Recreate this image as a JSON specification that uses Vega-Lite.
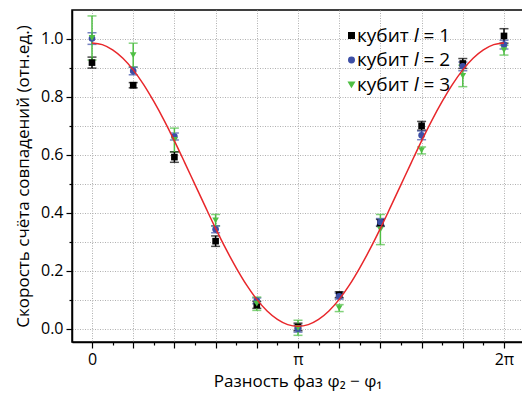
{
  "$schema": "https://vega.github.io/schema/vega-lite/v6.json",
  "width": 451,
  "height": 332,
  "autosize": {"type": "none"},
  "padding": {"left": 72, "top": 10, "right": 0, "bottom": 55},
  "config": {
    "font": "Open Sans",
    "view": {"stroke": "#000", "strokeWidth": 1.5},
    "axis": {
      "domainColor": "#000", "domainWidth": 1.5, "tickColor": "#000", "tickWidth": 1.2,
      "labelColor": "#000", "titleColor": "#000", "labelFontSize": 16, "titleFontSize": 17,
      "titleFontWeight": "normal", "gridColor": "#b0b0b0", "gridDash": [1, 1.5], "gridWidth": 1
    },
    "legend": {"labelFontSize": 19, "labelColor": "#000", "symbolOpacity": 1}
  },
  "datasets": {
    "pts": [
      {"phi": 0, "s": "кубит 𝑙 = 1", "v": 0.918, "e": 0.019},
      {"phi": 0.62832, "s": "кубит 𝑙 = 1", "v": 0.840, "e": 0.009},
      {"phi": 1.25664, "s": "кубит 𝑙 = 1", "v": 0.592, "e": 0.018},
      {"phi": 1.88496, "s": "кубит 𝑙 = 1", "v": 0.302, "e": 0.018},
      {"phi": 2.51327, "s": "кубит 𝑙 = 1", "v": 0.082, "e": 0.012},
      {"phi": 3.14159, "s": "кубит 𝑙 = 1", "v": 0.006, "e": 0.013},
      {"phi": 3.76991, "s": "кубит 𝑙 = 1", "v": 0.117, "e": 0.010},
      {"phi": 4.39823, "s": "кубит 𝑙 = 1", "v": 0.365, "e": 0.012},
      {"phi": 5.02655, "s": "кубит 𝑙 = 1", "v": 0.700, "e": 0.015},
      {"phi": 5.65487, "s": "кубит 𝑙 = 1", "v": 0.915, "e": 0.017},
      {"phi": 6.28319, "s": "кубит 𝑙 = 1", "v": 1.010, "e": 0.025},
      {"phi": 0, "s": "кубит 𝑙 = 2", "v": 1.001, "e": 0.020},
      {"phi": 0.62832, "s": "кубит 𝑙 = 2", "v": 0.889, "e": 0.013},
      {"phi": 1.25664, "s": "кубит 𝑙 = 2", "v": 0.663, "e": 0.012},
      {"phi": 1.88496, "s": "кубит 𝑙 = 2", "v": 0.343, "e": 0.012},
      {"phi": 2.51327, "s": "кубит 𝑙 = 2", "v": 0.096, "e": 0.010},
      {"phi": 3.14159, "s": "кубит 𝑙 = 2", "v": 0.000, "e": 0.012},
      {"phi": 3.76991, "s": "кубит 𝑙 = 2", "v": 0.112, "e": 0.010},
      {"phi": 4.39823, "s": "кубит 𝑙 = 2", "v": 0.368, "e": 0.012},
      {"phi": 5.02655, "s": "кубит 𝑙 = 2", "v": 0.667, "e": 0.015},
      {"phi": 5.65487, "s": "кубит 𝑙 = 2", "v": 0.905, "e": 0.015},
      {"phi": 6.28319, "s": "кубит 𝑙 = 2", "v": 0.980, "e": 0.015},
      {"phi": 0, "s": "кубит 𝑙 = 3", "v": 1.003, "e": 0.076},
      {"phi": 0.62832, "s": "кубит 𝑙 = 3", "v": 0.944, "e": 0.041},
      {"phi": 1.25664, "s": "кубит 𝑙 = 3", "v": 0.651, "e": 0.041},
      {"phi": 1.88496, "s": "кубит 𝑙 = 3", "v": 0.374, "e": 0.020},
      {"phi": 2.51327, "s": "кубит 𝑙 = 3", "v": 0.086, "e": 0.023},
      {"phi": 3.14159, "s": "кубит 𝑙 = 3", "v": 0.003, "e": 0.026},
      {"phi": 3.76991, "s": "кубит 𝑙 = 3", "v": 0.071, "e": 0.012},
      {"phi": 4.39823, "s": "кубит 𝑙 = 3", "v": 0.342, "e": 0.052},
      {"phi": 5.02655, "s": "кубит 𝑙 = 3", "v": 0.615, "e": 0.012},
      {"phi": 5.65487, "s": "кубит 𝑙 = 3", "v": 0.872, "e": 0.037},
      {"phi": 6.28319, "s": "кубит 𝑙 = 3", "v": 0.961, "e": 0.017}
    ],
    "fit": [
      {"x": 0, "f": 0.986}, {"x": 0.15708, "f": 0.980}, {"x": 0.31416, "f": 0.962},
      {"x": 0.47124, "f": 0.933}, {"x": 0.62832, "f": 0.893}, {"x": 0.7854, "f": 0.843},
      {"x": 0.94248, "f": 0.784}, {"x": 1.09956, "f": 0.719}, {"x": 1.25664, "f": 0.648},
      {"x": 1.41372, "f": 0.573}, {"x": 1.5708, "f": 0.497}, {"x": 1.72788, "f": 0.421},
      {"x": 1.88496, "f": 0.346}, {"x": 2.04204, "f": 0.275}, {"x": 2.19911, "f": 0.210},
      {"x": 2.35619, "f": 0.151}, {"x": 2.51327, "f": 0.101}, {"x": 2.67035, "f": 0.061},
      {"x": 2.82743, "f": 0.032}, {"x": 2.98451, "f": 0.014}, {"x": 3.14159, "f": 0.008},
      {"x": 3.29867, "f": 0.014}, {"x": 3.45575, "f": 0.032}, {"x": 3.61283, "f": 0.061},
      {"x": 3.76991, "f": 0.101}, {"x": 3.92699, "f": 0.151}, {"x": 4.08407, "f": 0.210},
      {"x": 4.24115, "f": 0.275}, {"x": 4.39823, "f": 0.346}, {"x": 4.55531, "f": 0.421},
      {"x": 4.71239, "f": 0.497}, {"x": 4.86947, "f": 0.573}, {"x": 5.02655, "f": 0.648},
      {"x": 5.18363, "f": 0.719}, {"x": 5.34071, "f": 0.784}, {"x": 5.49779, "f": 0.843},
      {"x": 5.65487, "f": 0.893}, {"x": 5.81195, "f": 0.933}, {"x": 5.96903, "f": 0.962},
      {"x": 6.12611, "f": 0.980}, {"x": 6.28319, "f": 0.986}
    ]
  },
  "layer": [
    {
      "data": {"name": "pts"},
      "mark": {"type": "errorbar", "ticks": true, "size": 9, "thickness": 1.5},
      "encoding": {
        "x": {
          "field": "phi", "type": "quantitative",
          "scale": {"domain": [-0.305, 6.573], "nice": false, "zero": false},
          "axis": {
            "orient": "bottom", "title": "Разность фаз φ₂ − φ₁", "titlePadding": 6,
            "values": [0, 0.62832, 1.25664, 1.88496, 2.51327, 3.14159, 3.76991, 4.39823, 5.02655, 5.65487, 6.28319],
            "labelExpr": "datum.value < 0.1 ? '0' : (abs(datum.value - 3.14159) < 0.01 ? 'π' : (abs(datum.value - 6.28319) < 0.01 ? '2π' : ''))",
            "tickSize": 6, "labelPadding": 3, "grid": true
          }
        },
        "y": {
          "field": "v", "type": "quantitative",
          "scale": {"domain": [-0.046, 1.0995], "nice": false, "zero": false},
          "axis": {
            "orient": "left", "title": "Скорость счёта совпадений (отн.ед.)", "titlePadding": 8,
            "values": [0, 0.2, 0.4, 0.6, 0.8, 1.0], "format": ".1f",
            "tickSize": 6, "labelPadding": 3, "grid": true
          }
        },
        "yError": {"field": "e"},
        "color": {
          "field": "s", "type": "nominal",
          "scale": {"domain": ["кубит 𝑙 = 1", "кубит 𝑙 = 2", "кубит 𝑙 = 3"], "range": ["#000000", "#3d4fa6", "#4fbf44"]},
          "legend": {
            "title": null, "orient": "none", "legendX": 270, "legendY": 16,
            "symbolSize": 30, "labelOffset": -4, "rowPadding": 4.5, "padding": 0
          }
        }
      }
    },
    {
      "data": {"name": "pts"},
      "mark": {"type": "point", "filled": true, "size": 44, "opacity": 1},
      "encoding": {
        "x": {
          "field": "phi", "type": "quantitative",
          "axis": {
            "orient": "bottom", "title": null, "labels": false, "domain": false, "grid": false,
            "values": [0.31416, 0.94248, 1.5708, 2.19911, 2.82743, 3.45575, 4.08407, 4.71239, 5.34071, 5.96903],
            "tickSize": 3
          }
        },
        "y": {
          "field": "v", "type": "quantitative",
          "axis": {
            "orient": "left", "title": null, "labels": false, "domain": false, "grid": true,
            "values": [0.1, 0.3, 0.5, 0.7, 0.9], "tickSize": 3
          }
        },
        "color": {
          "field": "s", "type": "nominal",
          "legend": {
            "title": null, "orient": "none", "legendX": 270, "legendY": 16,
            "symbolSize": 30, "labelOffset": -4, "rowPadding": 4.5, "padding": 0
          }
        },
        "shape": {
          "field": "s", "type": "nominal",
          "scale": {"domain": ["кубит 𝑙 = 1", "кубит 𝑙 = 2", "кубит 𝑙 = 3"], "range": ["square", "circle", "triangle-down"]},
          "legend": {
            "title": null, "orient": "none", "legendX": 270, "legendY": 16,
            "symbolSize": 30, "labelOffset": -4, "rowPadding": 4.5, "padding": 0
          }
        }
      }
    },
    {
      "data": {"name": "fit"},
      "mark": {"type": "line", "color": "#e8272b", "strokeWidth": 1.5, "interpolate": "monotone"},
      "encoding": {
        "x": {"field": "x", "type": "quantitative", "axis": null},
        "y": {"field": "f", "type": "quantitative", "axis": null}
      }
    }
  ],
  "resolve": {"axis": {"x": "independent", "y": "independent"}}
}
